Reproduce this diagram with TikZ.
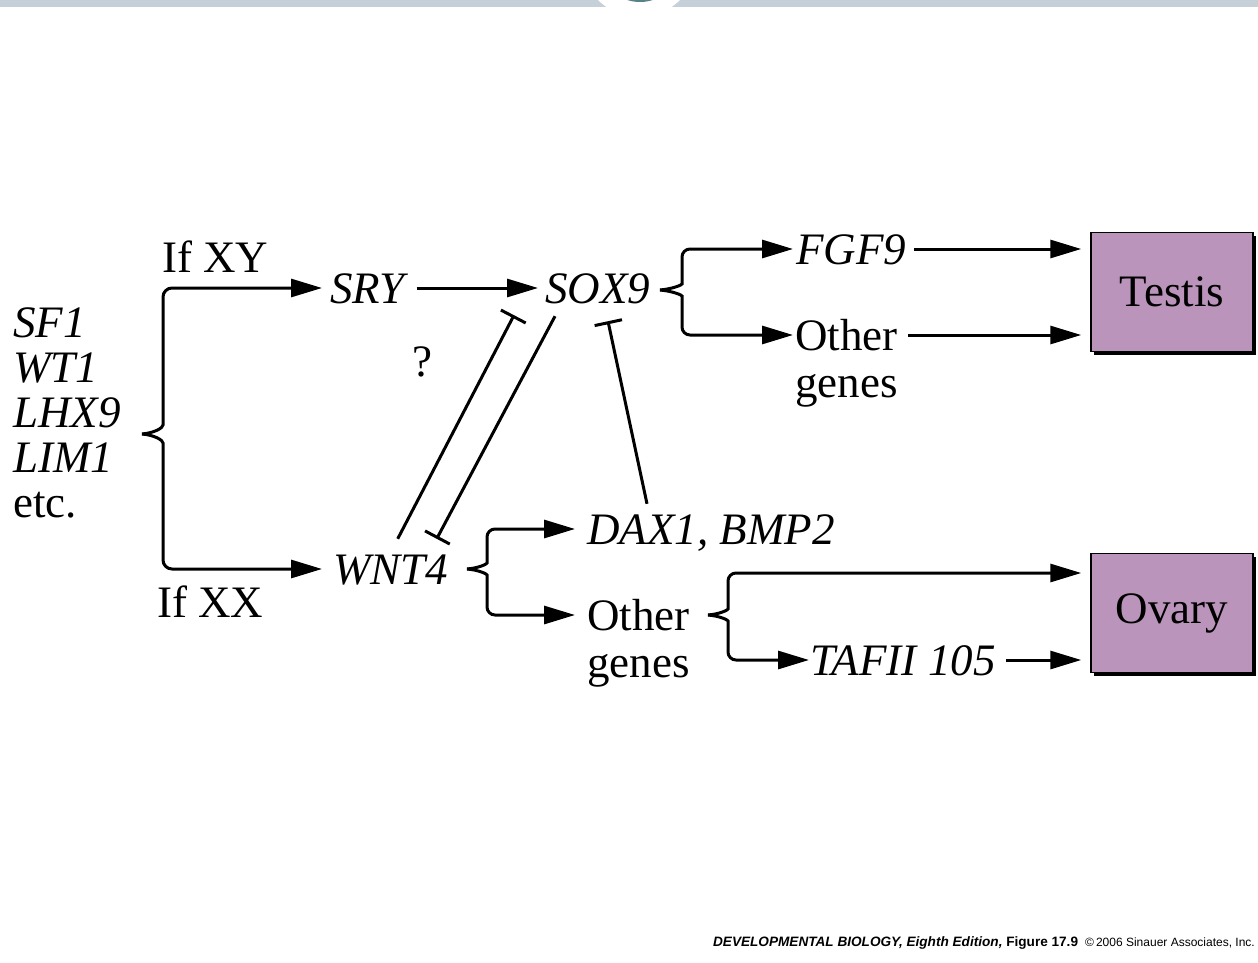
\documentclass[tikz,border=0pt]{standalone}
\usepackage{fontspec}
\setmainfont{Liberation Serif}
\newfontfamily\capsans{Liberation Sans}
\usetikzlibrary{arrows.meta,shadows}
\definecolor{barcol}{RGB}{197,208,216}
\definecolor{tealdot}{RGB}{88,130,135}
\definecolor{organfill}{RGB}{186,148,186}
\tikzset{
  txt/.style={inner sep=0pt, text height=30pt, text depth=0pt, font=\fontsize{45}{49}\selectfont},
  gene/.style={txt, font=\fontsize{45}{49}\selectfont\itshape},
  act/.style={line width=3pt, -{Triangle[length=31pt,width=18pt]}},
  inh/.style={line width=3pt, -{Bar[width=28pt,line width=3pt]}},
  organ/.style={draw=black, line width=1.5pt, fill=organfill, minimum width=162pt, minimum height=119pt, inner sep=0pt, font=\fontsize{45}{49}\selectfont, drop shadow={shadow xshift=3pt,shadow yshift=-3pt,fill=black,opacity=1}},
}
\begin{document}
\begin{tikzpicture}[x=1pt,y=-1pt]
\useasboundingbox (0,0) rectangle (1258,963);
\fill[white] (0,0) rectangle (1258,963);
\begin{scope}
  \clip (0,0) rectangle (1258,963);
  \fill[barcol] (0,0) rectangle (1258,7);
  \fill[white] (639,-41) circle[radius=58];
  \fill[tealdot] (640,-40) circle[radius=42];
\end{scope}

% left gene list
\node[gene, anchor=base west] (sf1) at (13,337) {SF1};
\node[gene, anchor=base west] (wt1) at (13,382) {WT1};
\node[gene, anchor=base west] (lhx9) at (13,427) {LHX9};
\node[gene, anchor=base west] (lim1) at (13,472) {LIM1};
\node[txt, anchor=base west] (etc) at (13,517) {etc.};

\node[txt, anchor=base west] (ifxy) at (162,272) {If XY};
\node[txt, anchor=base west] (ifxx) at (157,617) {If XX};
\node[gene, anchor=west] (sry) at (330,288) {SRY};
\node[gene, anchor=west] (sox9) at (545,288) {SOX9};
\node[txt] (q) at (422,361) {?};
\node[gene, anchor=west] (wnt4) at (333,569) {WNT4};
\node[gene, anchor=west] (fgf9) at (796,249) {FGF9};
\node[txt, anchor=west] (oth1) at (795,335) {Other};
\node[txt, anchor=base west] (gen1) at (795,397) {genes};
\node[gene, anchor=west] (dax) at (587,529) {DAX1, BMP2};
\node[txt, anchor=west] (oth2) at (587,615) {Other};
\node[txt, anchor=base west] (gen2) at (587,677) {genes};
\node[gene, anchor=west] (tafii) at (810,660) {TAFII 105};
\node[organ] (testis) at (1172,292) {Testis};
\node[organ] (ovary) at (1172,613) {Ovary};

% brace tips
\coordinate (bt) at (142,434);
\coordinate (st) at (660,290);
\coordinate (wt) at (467,569);
\coordinate (ot) at (708,615);

% left brace
\draw[act, rounded corners=9pt] (bt) .. controls (154,433) and (163,428) .. (163,416) -- (163,288) -- ([xshift=-8pt]sry.west);
\draw[act, rounded corners=9pt] (bt) .. controls (154,435) and (163,440) .. (163,452) -- (163,569) -- ([xshift=-11pt]wnt4.west);

% SRY -> SOX9
\draw[act] ([xshift=12pt]sry.east) -- ([xshift=-7pt]sox9.west);

% SOX9 brace
\draw[act, rounded corners=8pt] (st) .. controls (672,289) and (682,285) .. (682,276) -- (682,249) -- ([xshift=-3pt]fgf9.west);
\draw[act, rounded corners=8pt] (st) .. controls (672,291) and (682,295) .. (682,304) -- (682,335) -- ([xshift=-2pt]oth1.west);

% to testis
\draw[act, shorten >=9pt] ([xshift=8pt]fgf9.east) -- (fgf9.east -| testis.west);
\draw[act, shorten >=9pt] ([xshift=10pt]oth1.east) -- (oth1.east -| testis.west);

% WNT4 brace
\draw[act, rounded corners=8pt] (wt) .. controls (479,568) and (487,564) .. (487,555) -- (487,529) -- ([xshift=-12pt]dax.west);
\draw[act, rounded corners=8pt] (wt) .. controls (479,570) and (487,574) .. (487,583) -- (487,615) -- ([xshift=-12pt]oth2.west);

% Other (lower) brace
\draw[act, rounded corners=8pt] (ot) .. controls (720,614) and (728,610) .. (728,601) -- (728,573) -- ([shift={(-9,-40)}]ovary.west);
\draw[act, rounded corners=8pt] (ot) .. controls (720,616) and (728,620) .. (728,629) -- (728,660) -- ([xshift=-1pt]tafii.west);

% TAFII -> ovary
\draw[act] ([xshift=10pt]tafii.east) -- ([shift={(-9,47)}]ovary.west);

% inhibitions
\draw[inh] ([shift={(7,-15)}]wnt4.north) -- ([shift={(-31,12)}]sox9.south west);
\draw[inh] ([shift={(10,13)}]sox9.south west) -- ([shift={(46,-15)}]wnt4.north);
\draw[inh] ([shift={(60,-10)}]dax.north west) -- ([shift={(63,18)}]sox9.south west);

% caption
\node[anchor=base east, inner sep=0pt, font=\capsans\fontsize{13.6}{15}\selectfont] (cap) at (1255,946) {\textbf{\textit{DEVELOPMENTAL BIOLOGY, Eighth Edition,}} \textbf{Figure 17.9} {\fontsize{12}{14}\selectfont\ ©\,2006 Sinauer Associates, Inc.}};
\end{tikzpicture}
\end{document}
